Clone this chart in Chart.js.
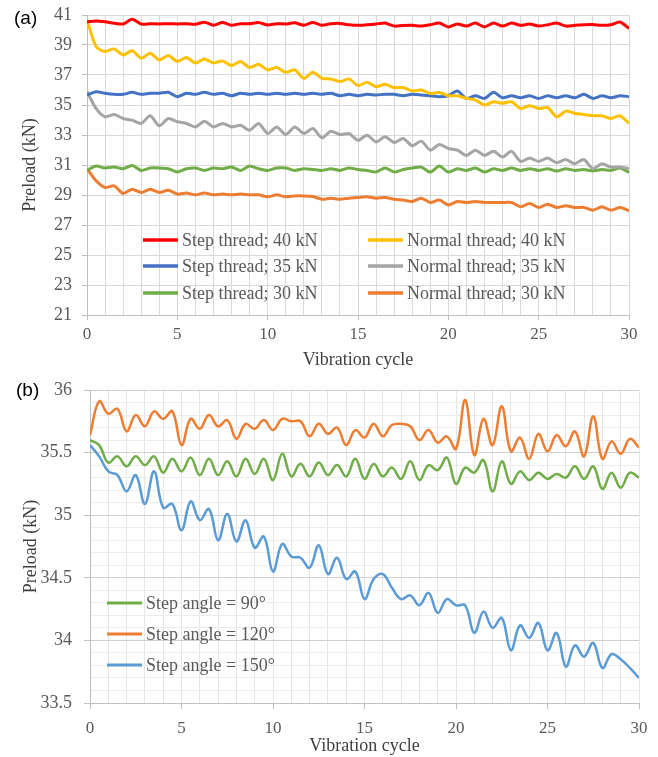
<!DOCTYPE html>
<html>
<head>
<meta charset="utf-8">
<script src="https://cdn.jsdelivr.net/npm/chart.js@4.4.1/dist/chart.umd.min.js"></script>
<style>
  body { margin: 0; background: #fff; }
  #wrap { position: relative; width: 658px; height: 757px; }
  canvas { position: absolute; left: 0; }
  .tag { position: absolute; font: 19px "Liberation Sans", Arial, sans-serif; line-height: 19px; color: #000; }
</style>
</head>
<body>
<div id="wrap">
  <canvas id="chartA" width="658" height="375" style="top:0"></canvas>
  <canvas id="chartB" width="658" height="380" style="top:377px"></canvas>
  <div class="tag" style="left:14px; top:8px">(a)</div>
  <div class="tag" style="left:16px; top:380px">(b)</div>
</div>
<script>
// vibration cycle (x) for both panels
const cycles = [0,0.5,1,1.5,2,2.5,3,3.5,4,4.5,5,5.5,6,6.5,7,7.5,8,8.5,9,9.5,10,10.5,11,11.5,12,12.5,13,13.5,14,14.5,
  15,15.5,16,16.5,17,17.5,18,18.5,19,19.5,20,20.5,21,21.5,22,22.5,23,23.5,24,24.5,25,25.5,26,26.5,27,27.5,28,28.5,29,29.5,30];

// Panel (a) - preload (kN)
const step40 = [40.55,40.6,40.55,40.45,40.4,40.72,40.4,40.42,40.4,40.42, 40.4,40.42,40.38,40.52,40.32,40.5,40.32,40.42,40.42,40.5,
  40.33,40.42,40.4,40.48,40.32,40.5,40.32,40.42,40.44,40.35, 40.31,40.35,40.4,40.46,40.26,40.3,40.31,40.26,40.35,40.46,
  40.2,40.4,40.26,40.46,40.2,40.46,40.26,40.46,40.31,40.4, 40.26,40.35,40.46,40.26,40.31,40.35,40.37,40.31,40.35,40.53, 40.1];
const normal40 = [40.69,38.9,38.56,38.74,38.34,38.61,38.12,38.45,38.0,38.3, 37.9,38.16,37.8,38.07,37.8,37.94,37.63,37.9,37.5,37.72,
  37.34,37.5,37.18,37.34,36.78,37.18,36.78,36.74,36.56,36.74, 36.29,36.51,36.22,36.38,36.16,36.16,35.94,36.0,35.77,35.84,
  35.62,35.62,35.44,35.33,35.0,35.22,35.11,35.22,34.77,34.95, 34.77,34.82,34.21,34.59,34.44,34.37,34.28,34.28,34.1,34.28, 33.77];
const step35 = [35.67,35.89,35.78,35.71,35.71,35.85,35.71,35.78,35.78,35.85, 35.55,35.78,35.71,35.85,35.71,35.78,35.62,35.78,35.71,35.78,
  35.71,35.78,35.71,35.78,35.71,35.78,35.71,35.78,35.62,35.71, 35.62,35.71,35.67,35.71,35.71,35.62,35.71,35.67,35.62,35.55,
  35.62,35.93,35.44,35.62,35.44,35.85,35.48,35.62,35.48,35.62, 35.44,35.62,35.48,35.62,35.48,35.71,35.44,35.62,35.48,35.62, 35.55];
const normal35 = [35.89,34.77,34.21,34.37,34.1,33.99,33.77,34.28,33.61,34.1, 33.88,33.77,33.54,33.92,33.54,33.77,33.54,33.65,33.32,33.77,
  33.1,33.54,33.03,33.54,33.1,33.43,32.81,33.25,33.03,33.1, 32.65,32.99,32.54,32.88,32.5,32.77,32.28,32.59,31.99,32.37,
  32.1,31.99,31.64,31.99,31.64,31.91,31.53,31.91,31.24,31.46, 31.24,31.46,31.15,31.37,31.08,31.37,30.75,31.08,30.86,30.86, 30.75];
const step30 = [30.64,30.93,30.8,30.86,30.75,30.97,30.64,30.8,30.8,30.75, 30.53,30.75,30.8,30.64,30.8,30.75,30.86,30.64,30.93,30.75,
  30.64,30.8,30.8,30.64,30.75,30.7,30.64,30.75,30.64,30.8, 30.7,30.64,30.53,30.8,30.53,30.7,30.8,30.86,30.53,30.93,
  30.53,30.75,30.64,30.8,30.53,30.75,30.64,30.8,30.64,30.75, 30.64,30.75,30.6,30.75,30.64,30.7,30.6,30.7,30.64,30.8, 30.5];
const normal30 = [30.75,29.95,29.5,29.61,29.1,29.39,29.17,29.39,29.17,29.32, 29.06,29.14,29.01,29.14,29.01,29.06,29.01,29.06,29.01,29.01,
  28.88,29.01,28.88,28.94,28.94,28.9,28.72,28.79,28.72,28.79, 28.83,28.88,28.79,28.83,28.72,28.66,28.57,28.79,28.5,28.66,
  28.34,28.57,28.5,28.57,28.5,28.5,28.5,28.5,28.21,28.43, 28.17,28.39,28.17,28.28,28.17,28.17,27.99,28.21,27.99,28.17, 27.95];

// Panel (b) - preload (kN) by step angle
const angle90 = [35.60,35.56,35.42,35.47,35.39,35.47,35.40,35.47,35.34,35.45, 35.35,35.46,35.32,35.45,35.32,35.43,35.31,35.45,35.33,35.45,
  35.28,35.49,35.31,35.41,35.31,35.42,35.32,35.40,35.31,35.45, 35.29,35.41,35.31,35.38,35.29,35.43,35.28,35.40,35.36,35.46,
  35.25,35.38,35.34,35.44,35.19,35.43,35.25,35.35,35.28,35.34, 35.29,35.33,35.30,35.39,35.29,35.39,35.21,35.34,35.22,35.34, 35.30];
const angle120 = [35.64,35.91,35.81,35.85,35.67,35.80,35.71,35.83,35.77,35.83, 35.56,35.77,35.69,35.80,35.71,35.76,35.61,35.73,35.69,35.76,
  35.68,35.77,35.75,35.75,35.63,35.73,35.65,35.70,35.56,35.68, 35.62,35.73,35.63,35.72,35.73,35.71,35.60,35.68,35.58,35.63,
  35.53,35.92,35.48,35.77,35.56,35.87,35.51,35.62,35.45,35.65, 35.51,35.64,35.55,35.67,35.47,35.79,35.45,35.59,35.49,35.61, 35.54];
const angle150 = [35.56,35.47,35.35,35.32,35.19,35.32,35.09,35.35,35.06,35.09, 34.88,35.11,34.96,35.05,34.80,35.01,34.79,34.96,34.74,34.83,
  34.55,34.77,34.67,34.66,34.58,34.76,34.53,34.66,34.49,34.55, 34.33,34.49,34.53,34.42,34.33,34.36,34.28,34.38,34.22,34.33,
  34.28,34.28,34.06,34.23,34.10,34.18,33.92,34.12,34.02,34.14, 33.92,34.06,33.79,33.96,33.87,33.98,33.78,33.89,33.85,33.78, 33.70];

const serif = '"Liberation Serif", "Times New Roman", serif';

function pts(values) {
    return values.map((v, i) => ({ x: cycles[i], y: v }));
}

// legend drawn inside the plot, one slot per dataset
function insideLegend(slots, lineWidth) {
    return {
        id: 'insideLegend',
        afterDraw(chart) {
            const ctx = chart.ctx;
            ctx.save();
            ctx.font = '18px ' + serif;
            ctx.textBaseline = 'middle';
            chart.data.datasets.forEach((ds, i) => {
                const s = slots[i];
                ctx.strokeStyle = ds.borderColor;
                ctx.lineWidth = lineWidth;
                ctx.beginPath();
                ctx.moveTo(s.x, s.y);
                ctx.lineTo(s.x + 35, s.y);
                ctx.stroke();
                ctx.fillStyle = '#595959';
                ctx.fillText(ds.label, s.x + 39, s.y + 1);
            });
            ctx.restore();
        }
    };
}

const majorX = ctx => ctx.tick && ctx.tick.value % 5 === 0;

// fixed axis box, no extra label overhang
function fixWidth(w) {
    return s => { s.width = w; s.paddingTop = 0; s.paddingBottom = 0; };
}

// PANEL (a)
new Chart(document.getElementById('chartA'), {
    type: 'line',
    data: {
        datasets: [
            { label: 'Step thread; 40 kN', data: pts(step40), borderColor: '#ff0000' },
            { label: 'Normal thread; 40 kN', data: pts(normal40), borderColor: '#ffc000' },
            { label: 'Step thread; 35 kN', data: pts(step35), borderColor: '#4472c4' },
            { label: 'Normal thread; 35 kN', data: pts(normal35), borderColor: '#a5a5a5' },
            { label: 'Step thread; 30 kN', data: pts(step30), borderColor: '#70ad47' },
            { label: 'Normal thread; 30 kN', data: pts(normal30), borderColor: '#ed7d31' }
        ]
    },
    options: {
        responsive: false,
        animation: false,
        layout: { padding: { top: 15, right: 29, left: 0, bottom: 0 } },
        elements: { point: { radius: 0 }, line: { borderWidth: 3, tension: 0.25 } },
        plugins: { legend: { display: false }, tooltip: { enabled: false } },
        scales: {
            x: {
                type: 'linear', min: 0, max: 30,
                afterFit(s) { s.height = 60; },
                ticks: {
                    stepSize: 1, autoSkip: false, maxRotation: 0, padding: 4,
                    color: '#595959', font: { family: serif, size: 17 },
                    callback: v => (v % 5 === 0 ? v : '')
                },
                grid: { color: '#d9d9d9', tickLength: 5, tickColor: ctx => (majorX(ctx) ? '#bfbfbf' : 'rgba(0,0,0,0)') },
                border: { color: '#bfbfbf' },
                title: { display: true, text: 'Vibration cycle', color: '#404040', font: { family: serif, size: 18 }, padding: { top: 0, bottom: 4 } }
            },
            y: {
                min: 21, max: 41,
                afterFit: fixWidth(87),
                ticks: { stepSize: 2, padding: 10, color: '#595959', font: { family: serif, size: 18 } },
                grid: { color: '#d9d9d9', tickLength: 5, tickColor: '#bfbfbf' },
                border: { color: '#bfbfbf' },
                title: { display: true, text: 'Preload (kN)', color: '#404040', font: { family: serif, size: 18 }, padding: { top: 19, bottom: 0 } }
            }
        }
    },
    plugins: [insideLegend([
        { x: 143, y: 240 }, { x: 368, y: 240 },
        { x: 143, y: 266 }, { x: 368, y: 266 },
        { x: 143, y: 293 }, { x: 368, y: 293 }
    ], 3.5)]
});

// PANEL (b)
const majorY = v => Math.round(v * 10) % 5 === 0;

new Chart(document.getElementById('chartB'), {
    type: 'line',
    data: {
        datasets: [
            { label: 'Step angle = 90°', data: pts(angle90), borderColor: '#70ad47' },
            { label: 'Step angle = 120°', data: pts(angle120), borderColor: '#ed7d31' },
            { label: 'Step angle = 150°', data: pts(angle150), borderColor: '#5b9bd5' }
        ]
    },
    options: {
        responsive: false,
        animation: false,
        layout: { padding: { top: 13, right: 19, left: 0, bottom: 0 } },
        elements: { point: { radius: 0 }, line: { borderWidth: 2.5, tension: 0.4 } },
        plugins: { legend: { display: false }, tooltip: { enabled: false } },
        scales: {
            x: {
                type: 'linear', min: 0, max: 30,
                afterFit(s) { s.height = 54; },
                ticks: {
                    stepSize: 1, autoSkip: false, maxRotation: 0, padding: 9,
                    color: '#595959', font: { family: serif, size: 17 },
                    callback: v => (v % 5 === 0 ? v : '')
                },
                grid: { color: '#e6e6e6', tickLength: 6, tickColor: ctx => (majorX(ctx) ? '#bfbfbf' : 'rgba(0,0,0,0)') },
                border: { color: '#bfbfbf' },
                title: { display: true, text: 'Vibration cycle', color: '#404040', font: { family: serif, size: 18 }, padding: { top: 0, bottom: 0 } }
            },
            y: {
                min: 33.5, max: 36,
                afterFit: fixWidth(90),
                ticks: {
                    stepSize: 0.1, autoSkip: false, padding: 12,
                    color: '#595959', font: { family: serif, size: 18 },
                    callback: v => (majorY(v) ? String(Math.round(v * 10) / 10) : '')
                },
                grid: {
                    color: ctx => (ctx.tick && majorY(ctx.tick.value) ? '#d0d0d0' : '#ececec'),
                    tickLength: 6,
                    tickColor: ctx => (ctx.tick && majorY(ctx.tick.value) ? '#bfbfbf' : 'rgba(0,0,0,0)')
                },
                border: { color: '#bfbfbf' },
                title: { display: true, text: 'Preload (kN)', color: '#404040', font: { family: serif, size: 18 }, padding: { top: 20, bottom: 0 } }
            }
        }
    },
    plugins: [insideLegend([
        { x: 107, y: 226 }, { x: 107, y: 257 }, { x: 107, y: 288 }
    ], 3)]
});
</script>
</body>
</html>
